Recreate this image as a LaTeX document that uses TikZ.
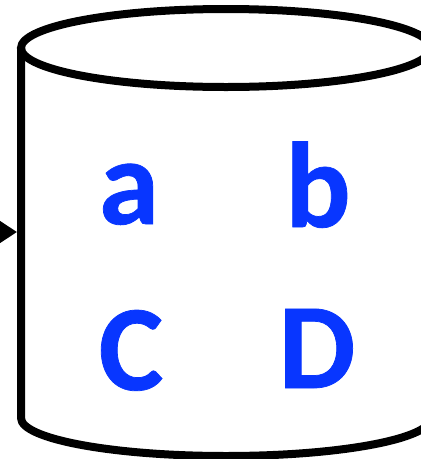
\documentclass[tikz,border=0pt]{standalone}
\usepackage{fontspec}
\setmainfont{Carlito}[BoldFeatures={FakeBold=0.6}]
\usetikzlibrary{shapes.geometric,arrows.meta}
\definecolor{letterblue}{RGB}{8,54,255}
\begin{document}
\begin{tikzpicture}[x=1pt, y=-1pt, line width=8pt, main/.style = {draw, ellipse, minimum width=410pt, minimum height=78pt, inner sep=0pt, outer sep=0pt}, letter/.style = {anchor=base, text=letterblue, font=\fontsize{122}{122}\selectfont\bfseries}]
        \useasboundingbox (0,0) rectangle (421,459);
        \node[main] (top) at (226,48) {};
        \coordinate (base) at (21,418);
        \coordinate (inlet) at (17,232);
        \coordinate (feed) at (-6,232);
        \node[letter] (a) at (129,224) {a};
        \node[letter] (b) at (318,227) {b};
        \node[letter] (c) at (131,390) {C};
        \node[letter] (d) at (317,388) {D};
        \draw[line join=round] (top.west) -- (base) arc[start angle=180, end angle=0, x radius=205, y radius=38];
        \draw[-{Triangle[length=17pt,width=21pt]}] (feed) to (inlet);
    \end{tikzpicture}
\end{document}
